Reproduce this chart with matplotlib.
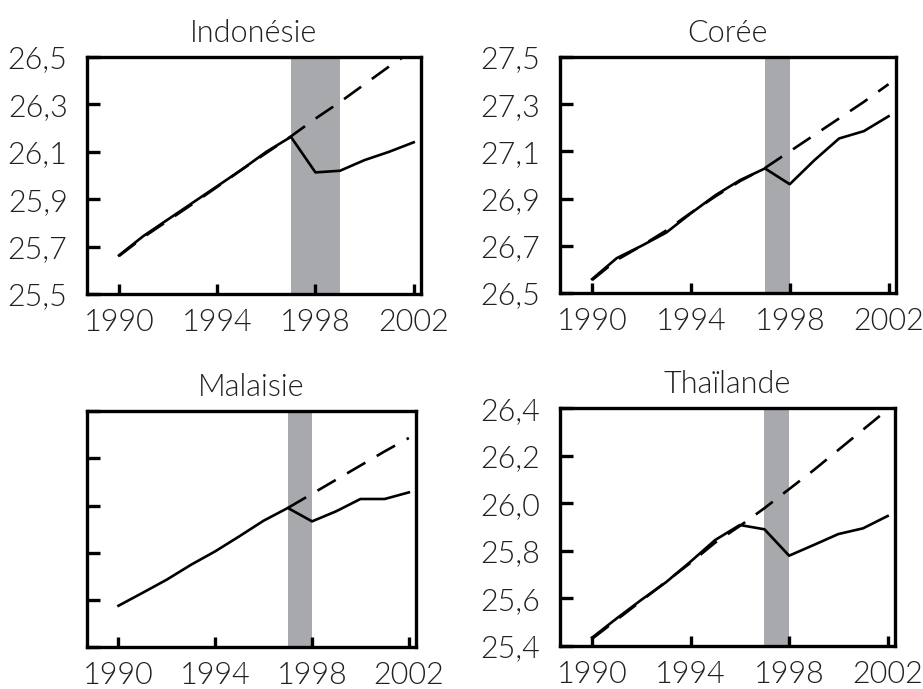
import numpy as np
import matplotlib
matplotlib.use("Agg")
import matplotlib.pyplot as plt

plt.rcParams['font.family'] = ['Lato', 'DejaVu Sans']
plt.rcParams['font.weight'] = 300
plt.rcParams['axes.titleweight'] = 300

years = [1990, 1991, 1992, 1993, 1994, 1995, 1996, 1997, 1998, 1999, 2000, 2001, 2002]
xticks = [1990, 1994, 1998, 2002]
xtick_labels = ['1990', '1994', '1998', '2002']

nan = np.nan

# Indonésie
indo_actual = [25.663, 25.745, 25.815, 25.885, 25.955, 26.025, 26.10, 26.163, 26.013, 26.020, 26.065, 26.10, 26.140]
indo_trend = [25.66, 25.74, 25.81, 25.88, 25.952, 26.025, 26.095, 26.165, 26.24, 26.31, 26.385, 26.46, 26.53]
indo_crisis = (1997, 1999)
indo_yticks = [25.5, 25.7, 25.9, 26.1, 26.3, 26.5]
indo_ylabels = ['25,5', '25,7', '25,9', '26,1', '26,3', '26,5']

# Corée
kor_actual = [26.559, 26.648, 26.700, 26.756, 26.838, 26.915, 26.979, 27.028, 26.961, 27.063, 27.155, 27.186, 27.249]
kor_trend = [26.555, 26.64, 26.70, 26.765, 26.84, 26.91, 26.975, 27.03, 27.10, 27.17, 27.24, 27.31, 27.385]
kor_crisis = (1997, 1998)
kor_yticks = [26.5, 26.7, 26.9, 27.1, 27.3, 27.5]
kor_ylabels = ['26,5', '26,7', '26,9', '27,1', '27,3', '27,5']

# Malaisie (no y labels in the original)
mal_actual = [25.475, 25.53, 25.586, 25.649, 25.706, 25.77, 25.836, 25.89, 25.833, 25.876, 25.928, 25.928, 25.956]
mal_trend = [nan, nan, nan, nan, nan, nan, nan, 25.89, 25.95, 26.01, 26.07, 26.13, 26.187]
mal_crisis = (1997, 1998)
mal_yticks = [25.3, 25.5, 25.7, 25.9, 26.1, 26.3]
mal_ylabels = ['', '', '', '', '', '']

# Thaïlande
tha_actual = [25.435, 25.516, 25.594, 25.668, 25.755, 25.846, 25.909, 25.891, 25.78, 25.825, 25.871, 25.895, 25.947]
tha_trend = [25.43, 25.51, 25.59, 25.67, 25.75, 25.835, 25.905, 25.98, 26.06, 26.14, 26.225, 26.31, 26.395]
tha_crisis = (1997, 1998)
tha_yticks = [25.4, 25.6, 25.8, 26.0, 26.2, 26.4]
tha_ylabels = ['25,4', '25,6', '25,8', '26,0', '26,2', '26,4']

panels = [
    ('Indonésie', [0.0943, 0.5733, 0.3619, 0.344], indo_actual, indo_trend, indo_crisis, indo_yticks, indo_ylabels),
    ('Corée', [0.6067, 0.5747, 0.364, 0.3425], kor_actual, kor_trend, kor_crisis, kor_yticks, kor_ylabels),
    ('Malaisie', [0.0943, 0.061, 0.3565, 0.342], mal_actual, mal_trend, mal_crisis, mal_yticks, mal_ylabels),
    ('Thaïlande', [0.6067, 0.0624, 0.363, 0.345], tha_actual, tha_trend, tha_crisis, tha_yticks, tha_ylabels),
]

fig = plt.figure(figsize=(9.23, 6.89), dpi=100)

for title, rect, actual, trend, crisis, yt, yl in panels:
    ax = fig.add_axes(rect)
    ax.axvspan(crisis[0], crisis[1], color='#a7a9ac', lw=0, zorder=1)
    ax.plot(years, trend, color='black', lw=1.9, dashes=(8, 5), zorder=2)
    ax.plot(years, actual, color='black', lw=1.9, zorder=3)
    ax.set_xlim(1988.7, 2002.3)
    ax.set_ylim(yt[0], yt[-1])
    ax.set_xticks(xticks)
    ax.set_xticklabels(xtick_labels)
    ax.set_yticks(yt)
    ax.set_yticklabels(yl)
    for s in ax.spines.values():
        s.set_linewidth(2.4)
    ax.tick_params(axis='both', direction='in', width=2.4, labelsize=22, colors='black')
    ax.tick_params(axis='y', length=9, pad=14)
    ax.tick_params(axis='x', length=7, pad=10)
    for lab in ax.get_xticklabels() + ax.get_yticklabels():
        lab.set_color('#231f20')
    ax.set_title(title, fontsize=22, pad=11, color='#231f20', fontweight=300)

fig.savefig('out.png', dpi=100)
